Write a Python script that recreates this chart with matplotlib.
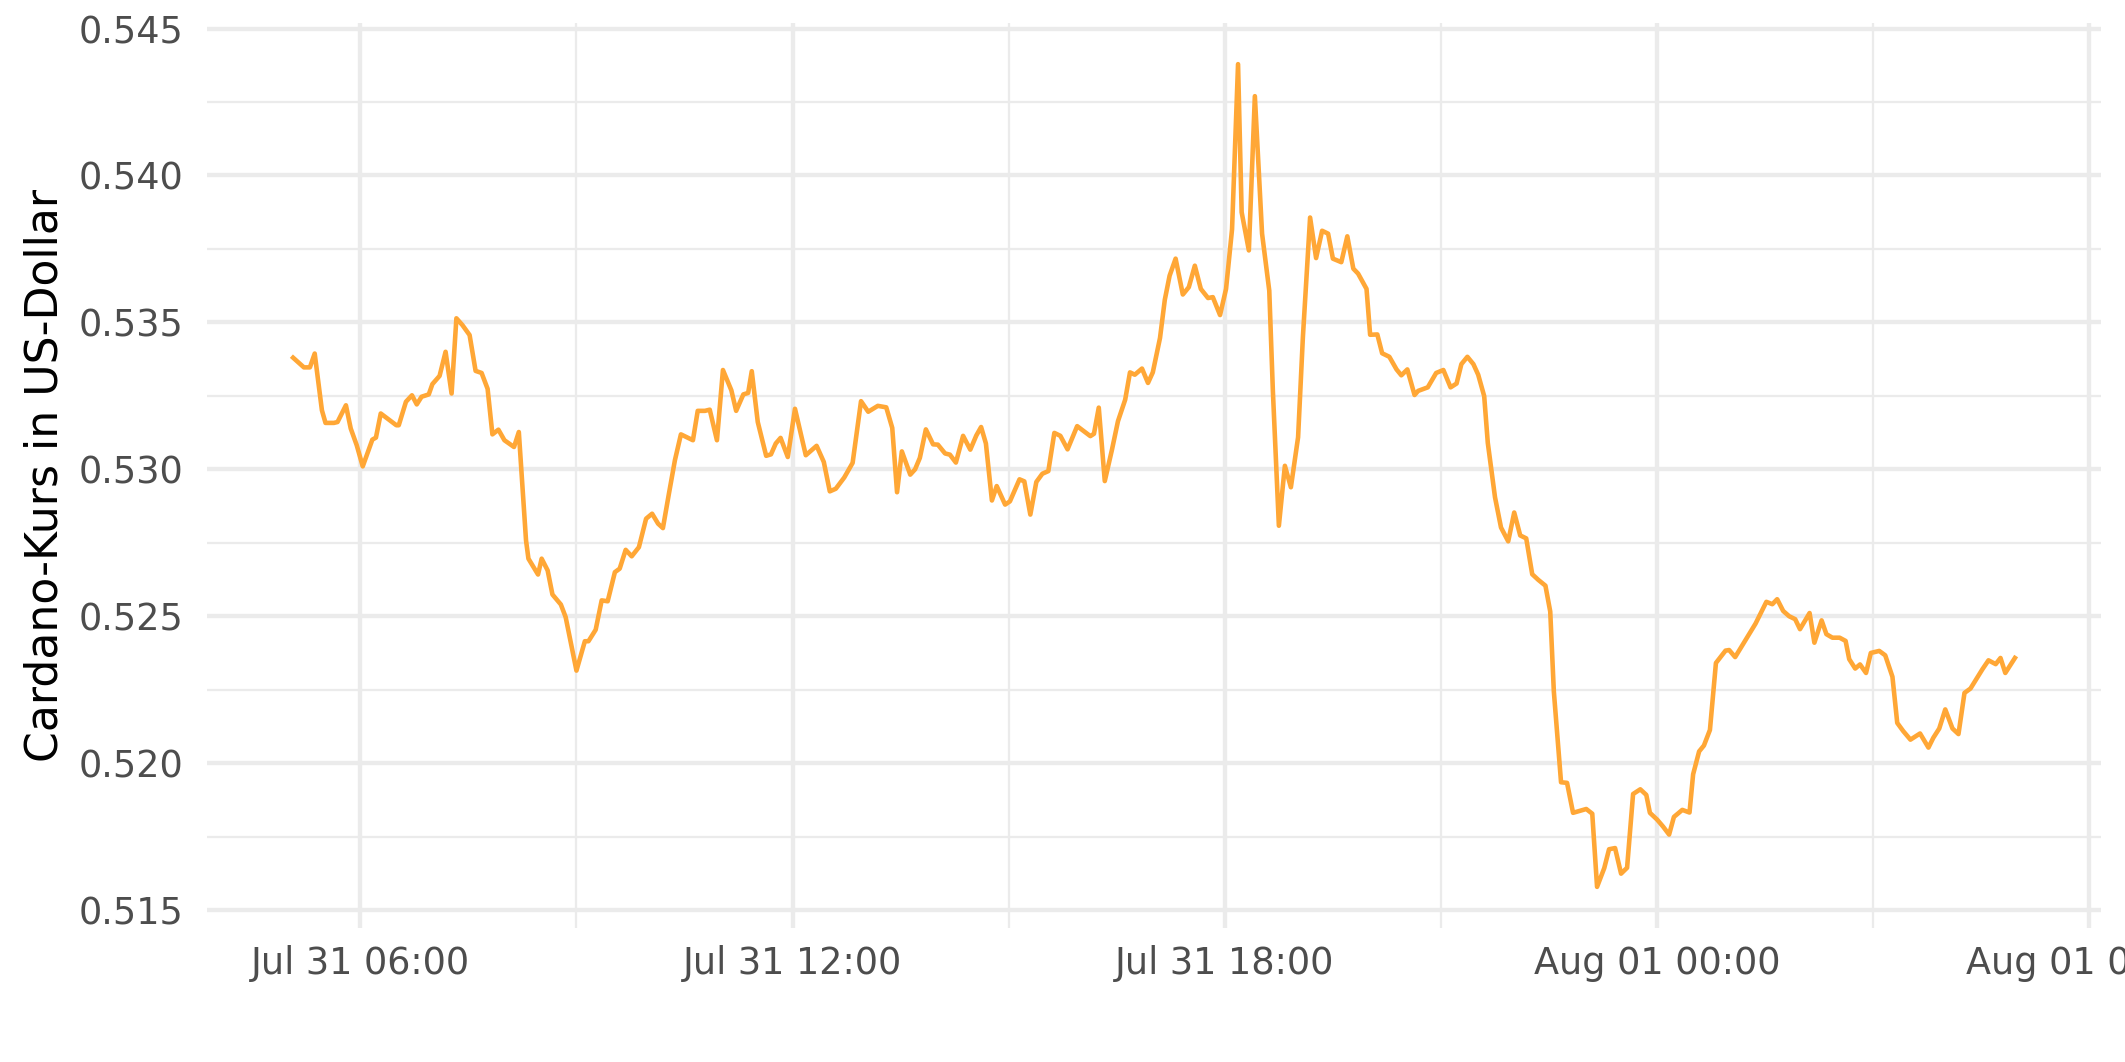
import matplotlib
matplotlib.use("Agg")
import matplotlib.pyplot as plt
import matplotlib.dates as mdates
from matplotlib.ticker import MultipleLocator, FormatStrFormatter
import pandas as pd

# minutes after 2022-07-31 05:00
minutes = [4, 13, 18, 22, 28, 31, 38, 41, 48, 52, 57, 62, 70, 73, 77, 90, 92, 98, 103, 107,
           111, 117, 120, 126, 131, 136, 140, 145, 151, 156, 161, 166, 170, 175, 180, 188, 192, 198, 200, 208,
           211, 216, 220, 227, 231, 236, 240, 247, 250, 256, 261, 266, 272, 276, 281, 286, 292, 298, 303, 308,
           312, 317, 322, 327, 337, 341, 347, 351, 357, 362, 369, 373, 379, 383, 386, 391, 398, 402, 406, 410,
           416, 422, 431, 440, 446, 451, 456, 463, 470, 477, 483, 491, 498, 503, 507, 511, 518, 522, 526, 531,
           537, 541, 547, 551, 556, 562, 568, 573, 577, 581, 586, 590, 597, 601, 609, 613, 618, 623, 628, 633,
           638, 643, 649, 657, 668, 671, 675, 680, 686, 691, 697, 701, 705, 711, 716, 720, 726, 730, 734, 739,
           745, 750, 755, 760, 766, 770, 776, 781, 786, 791, 794, 800, 805, 811, 817, 820, 825, 830, 835, 841,
           845, 851, 856, 861, 866, 870, 877, 882, 887, 891, 898, 901, 907, 911, 917, 923, 927, 932, 938, 941,
           949, 956, 962, 968, 973, 977, 982, 987, 991, 996, 999, 1005, 1010, 1016, 1021, 1026, 1031, 1036, 1041, 1047,
           1051, 1054, 1060, 1065, 1070, 1081, 1086, 1090, 1096, 1100, 1105, 1110, 1115, 1120, 1126, 1131, 1134, 1140, 1145, 1150,
           1154, 1161, 1167, 1170, 1175, 1179, 1184, 1189, 1197, 1200, 1205, 1222, 1231, 1236, 1240, 1245, 1250, 1255, 1259, 1267,
           1271, 1277, 1281, 1286, 1292, 1297, 1300, 1305, 1309, 1314, 1318, 1325, 1330, 1336, 1340, 1345, 1351, 1359, 1366, 1370,
           1375, 1380, 1386, 1391, 1396, 1401, 1411, 1416, 1422, 1426, 1430, 1438]

price = [0.53380, 0.53347, 0.53347, 0.53394, 0.53201, 0.53158, 0.53158, 0.53161, 0.53218, 0.53139,
         0.53082, 0.53010, 0.53101, 0.53108, 0.53190, 0.53150, 0.53150, 0.53230, 0.53252, 0.53221,
         0.53247, 0.53255, 0.53290, 0.53318, 0.53400, 0.53258, 0.53514, 0.53491, 0.53457, 0.53335,
         0.53328, 0.53274, 0.53119, 0.53135, 0.53099, 0.53076, 0.53127, 0.52758, 0.52696, 0.52642,
         0.52696, 0.52656, 0.52574, 0.52540, 0.52497, 0.52395, 0.52315, 0.52415, 0.52415, 0.52454,
         0.52554, 0.52551, 0.52650, 0.52662, 0.52726, 0.52704, 0.52735, 0.52832, 0.52849, 0.52815,
         0.52800, 0.52917, 0.53031, 0.53119, 0.53099, 0.53199, 0.53199, 0.53203, 0.53099, 0.53338,
         0.53269, 0.53199, 0.53255, 0.53260, 0.53334, 0.53161, 0.53046, 0.53051, 0.53088, 0.53107,
         0.53042, 0.53206, 0.53048, 0.53080, 0.53025, 0.52925, 0.52934, 0.52972, 0.53022, 0.53232,
         0.53196, 0.53216, 0.53211, 0.53141, 0.52922, 0.53061, 0.52982, 0.53000, 0.53039, 0.53136,
         0.53085, 0.53084, 0.53054, 0.53050, 0.53023, 0.53114, 0.53067, 0.53115, 0.53144, 0.53088,
         0.52894, 0.52943, 0.52880, 0.52891, 0.52966, 0.52959, 0.52846, 0.52957, 0.52985, 0.52994,
         0.53124, 0.53114, 0.53068, 0.53147, 0.53113, 0.53121, 0.53210, 0.52960, 0.53067, 0.53164,
         0.53237, 0.53330, 0.53322, 0.53343, 0.53294, 0.53330, 0.53447, 0.53577, 0.53659, 0.53717,
         0.53595, 0.53620, 0.53693, 0.53614, 0.53583, 0.53586, 0.53525, 0.53614, 0.53817, 0.54379,
         0.53875, 0.53745, 0.54270, 0.53802, 0.53608, 0.53267, 0.52808, 0.53012, 0.52939, 0.53109,
         0.53450, 0.53857, 0.53719, 0.53812, 0.53802, 0.53717, 0.53705, 0.53793, 0.53683, 0.53666,
         0.53614, 0.53458, 0.53459, 0.53395, 0.53383, 0.53340, 0.53320, 0.53340, 0.53253, 0.53267,
         0.53279, 0.53328, 0.53338, 0.53279, 0.53292, 0.53358, 0.53383, 0.53358, 0.53322, 0.53249,
         0.53090, 0.52905, 0.52802, 0.52755, 0.52853, 0.52775, 0.52765, 0.52643, 0.52624, 0.52604,
         0.52516, 0.52244, 0.51935, 0.51933, 0.51831, 0.51844, 0.51828, 0.51579, 0.51643, 0.51707,
         0.51711, 0.51624, 0.51644, 0.51895, 0.51911, 0.51892, 0.51831, 0.51808, 0.51784, 0.51757,
         0.51817, 0.51841, 0.51832, 0.51962, 0.52040, 0.52060, 0.52113, 0.52341, 0.52383, 0.52385,
         0.52361, 0.52475, 0.52549, 0.52541, 0.52558, 0.52518, 0.52500, 0.52490, 0.52456, 0.52511,
         0.52410, 0.52486, 0.52439, 0.52427, 0.52427, 0.52416, 0.52354, 0.52322, 0.52336, 0.52307,
         0.52375, 0.52382, 0.52367, 0.52294, 0.52137, 0.52109, 0.52080, 0.52101, 0.52053, 0.52086,
         0.52118, 0.52183, 0.52118, 0.52099, 0.52239, 0.52254, 0.52320, 0.52350, 0.52337, 0.52358,
         0.52307, 0.52358]

start = pd.Timestamp("2022-07-31 05:00")
times = start + pd.to_timedelta(minutes, unit="min")

plt.rcParams['font.family'] = ['DejaVu Sans']

fig = plt.figure(figsize=(2125 / 300, 1062 / 300), dpi=300)
ax = fig.add_axes([207 / 2125, (1062 - 928) / 1062, (2101 - 207) / 2125, (928 - 23) / 1062])

ax.plot(times, price, color="#FFA736", linewidth=1.1, zorder=3)
ax.margins(x=0.05, y=0.05)

#- axes and grid in a minimal style
ax.xaxis.set_major_locator(mdates.HourLocator(byhour=[0, 6, 12, 18]))
ax.xaxis.set_minor_locator(mdates.HourLocator(byhour=[3, 9, 15, 21]))
ax.xaxis.set_major_formatter(mdates.DateFormatter("%b %d %H:%M"))
ax.yaxis.set_major_locator(MultipleLocator(0.005))
ax.yaxis.set_minor_locator(MultipleLocator(0.0025))
ax.yaxis.set_major_formatter(FormatStrFormatter("%.3f"))

ax.grid(which="major", color="#EBEBEB", linewidth=1.05)
ax.grid(which="minor", color="#EBEBEB", linewidth=0.55)
ax.set_axisbelow(True)
for s in ax.spines.values():
    s.set_visible(False)
ax.tick_params(which="both", length=0)
ax.tick_params(axis="y", labelsize=8.8, labelcolor="#4D4D4D", pad=5.6)
ax.tick_params(axis="x", labelsize=8.8, labelcolor="#4D4D4D", pad=4.2)

fig.text(45 / 2125, 1 - 475 / 1062, "Cardano-Kurs in US-Dollar", rotation=90,
         ha="center", va="center", fontsize=10.6, color="black")

fig.savefig("out.png", dpi=300)
